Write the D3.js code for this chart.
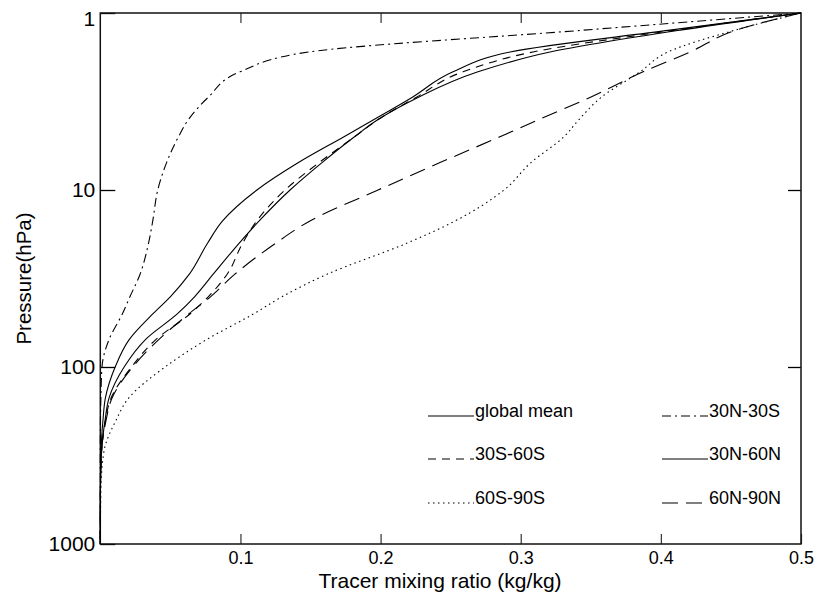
<!DOCTYPE html>
<html>
<head>
<meta charset="utf-8">
<script src="https://cdn.jsdelivr.net/npm/d3@7"></script>
<style>
  body { margin: 0; background: #fff; }
  text { font-family: "Liberation Sans", Arial, Helvetica, sans-serif; fill: #000; }
</style>
</head>
<body>
<div id="chart"></div>
<script>
// pressure levels (hPa) and tracer mixing ratio (kg/kg) for each region
const levels = [1, 1.25, 1.66, 2.15, 3, 4, 5, 7, 10, 15, 20, 30, 40, 50, 70, 100, 150, 200, 300, 500, 1000];
const globalMean = [0.5, 0.4065, 0.2924, 0.2517, 0.2224, 0.1953, 0.1739, 0.1414, 0.1118, 0.0871, 0.0765, 0.0634, 0.0501, 0.0376, 0.0206, 0.0106, 0.0036, 0.0019, 0.0005, 0.0001, 0];
const n30s30 = [0.5, 0.345, 0.149, 0.0997, 0.0769, 0.0629, 0.0558, 0.0473, 0.0410, 0.0374, 0.0344, 0.0283, 0.0212, 0.0158, 0.0062, 0.0012, 0.0004, 0.0001, 0, 0, 0];
const s30s60 = [0.5, 0.4101, 0.3088, 0.2588, 0.2253, 0.1982, 0.1815, 0.1561, 0.1318, 0.1115, 0.1015, 0.0904, 0.0772, 0.0642, 0.0396, 0.0223, 0.0076, 0.0037, 0.0009, 0.0001, 0];
const n30n60 = [0.5, 0.4137, 0.3209, 0.2695, 0.2267, 0.1982, 0.1814, 0.1582, 0.1354, 0.1132, 0.0990, 0.0804, 0.0674, 0.0551, 0.0322, 0.0170, 0.0062, 0.0034, 0.0009, 0.0001, 0];
const s60s90 = [0.5, 0.4529, 0.4051, 0.3851, 0.3573, 0.3416, 0.3309, 0.3073, 0.2881, 0.2529, 0.2186, 0.1615, 0.1299, 0.1096, 0.0759, 0.0462, 0.0202, 0.0112, 0.0026, 0.0004, 0];
const n60n90 = [0.5, 0.4536, 0.4208, 0.3873, 0.3494, 0.3130, 0.2852, 0.2424, 0.1982, 0.1493, 0.1251, 0.0958, 0.0788, 0.0633, 0.0417, 0.0231, 0.0083, 0.0041, 0.0009, 0.0001, 0];

const seriesNames = ['global mean', '30N-30S', '30S-60S', '30N-60N', '60S-90S', '60N-90N'];
const seriesValues = [globalMean, n30s30, s30s60, n30n60, s60s90, n60n90];
const xTicks = [0.1, 0.2, 0.3, 0.4, 0.5];
const yTicks = [1, 10, 100, 1000];

const dashes = {
    'global mean': null, '30N-60N': null,
    '30N-30S': '9,4,2,4', '30S-60S': '8,6', '60S-90S': '1.5,3.5', '60N-90N': '16,8'
};

const W = 815, H = 603;
const mLeft = 100.3, mRight = 801, mTop = 13, mBottom = 544;

const svg = d3.select('#chart').append('svg').attr('width', W).attr('height', H);

const x = d3.scaleLinear().domain([0, 0.5]).range([mLeft, mRight]);
const y = d3.scaleLog().domain([1, 1000]).range([mTop, mBottom]);

// axes (ticks point inward)
svg.append('g').attr('transform', `translate(0, ${mBottom})`)
    .call(d3.axisBottom(x).tickValues(xTicks).tickSizeInner(-10).tickSizeOuter(0).tickPadding(7).tickFormat(d3.format('.1f')))
    .call(g => g.select('.domain').remove())
    .call(g => g.selectAll('text').style('font-size', '18px').attr('font-family', null))
    .call(g => g.selectAll('line').attr('stroke', '#333').attr('stroke-width', 1.2));

svg.append('g').attr('transform', `translate(0, ${mTop})`)
    .call(d3.axisTop(x).tickValues(xTicks.slice(0, 4)).tickSizeInner(-10).tickSizeOuter(0).tickFormat(''))
    .call(g => g.select('.domain').remove())
    .call(g => g.selectAll('line').attr('stroke', '#333').attr('stroke-width', 1.2));

svg.append('g').attr('transform', `translate(${mLeft}, 0)`)
    .call(d3.axisLeft(y).tickValues(yTicks).tickSizeInner(-15).tickSizeOuter(0).tickPadding(5).tickFormat(d3.format('d')))
    .call(g => g.select('.domain').remove())
    .call(g => g.selectAll('text').style('font-size', '21px').attr('font-family', null))
    .call(g => g.selectAll('text').filter(d => d === 1).attr('dy', '0.58em'))
    .call(g => g.selectAll('line').attr('stroke', '#000').attr('stroke-width', 1.3));

svg.append('g').attr('transform', `translate(${mRight}, 0)`)
    .call(d3.axisRight(y).tickValues(yTicks.slice(1, 3)).tickSizeInner(-13).tickSizeOuter(0).tickFormat(''))
    .call(g => g.select('.domain').remove())
    .call(g => g.selectAll('line').attr('stroke', '#000').attr('stroke-width', 1.3));

// frame
svg.append('rect').attr('x', mLeft).attr('y', mTop).attr('width', mRight - mLeft).attr('height', mBottom - mTop)
    .attr('fill', 'none').attr('stroke', '#111').attr('stroke-width', 1.5);

// axis titles
svg.append('text').attr('x', 440).attr('y', 588).attr('text-anchor', 'middle')
    .style('font-size', '21px').text('Tracer mixing ratio (kg/kg)');
svg.append('text').attr('transform', `translate(31, ${(mTop + mBottom) / 2}) rotate(-90)`)
    .attr('text-anchor', 'middle').style('font-size', '20.5px').text('Pressure(hPa)');

// profiles
const line = d3.line().x(d => x(d[1])).y(d => y(d[0])).curve(d3.curveMonotoneY);

seriesNames.forEach((name, i) => {
    const pts = levels.map((p, j) => [p, seriesValues[i][j]]);
    svg.append('path').datum(pts).attr('d', line)
        .attr('fill', 'none').attr('stroke', '#000').attr('stroke-width', 1.1)
        .attr('stroke-dasharray', dashes[name]);
});

// legend: two columns, three rows
const legCols = [428, 662], legRows = [416, 459, 503];
seriesNames.forEach((name, i) => {
    const lx = legCols[i % 2], ly = legRows[Math.floor(i / 2)];
    svg.append('line').attr('x1', lx).attr('x2', lx + 46).attr('y1', ly).attr('y2', ly)
        .attr('stroke', '#000').attr('stroke-width', 1.1).attr('stroke-dasharray', dashes[name]);
    svg.append('text').attr('x', lx + 47).attr('y', ly + 1).style('font-size', '18px').text(name);
});
</script>
</body>
</html>
